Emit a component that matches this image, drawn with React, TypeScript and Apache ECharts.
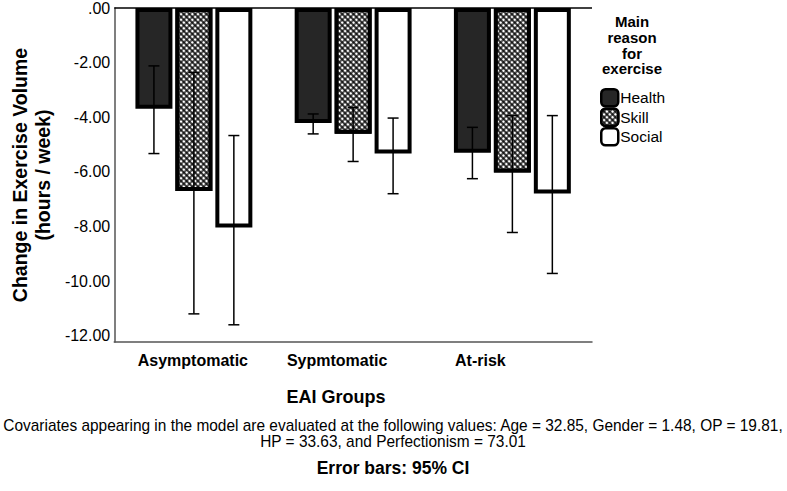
import React, { useEffect, useRef } from "react";
import * as echarts from "echarts";

const categories = ["Asymptomatic", "Sypmtomatic", "At-risk"];
const seriesNames = ["Health", "Skill", "Social"];

const healthMeans = [-3.69, -4.21, -5.3];
const skillMeans = [-6.7, -4.6, -6.02];
const socialMeans = [-8.04, -5.33, -6.79];

const healthLow = [-5.33, -4.61, -6.25];
const healthHigh = [-2.12, -3.88, -4.37];
const skillLow = [-11.2, -5.62, -8.22];
const skillHigh = [-2.36, -3.64, -3.94];
const socialLow = [-11.6, -6.8, -9.72];
const socialHigh = [-4.67, -4.03, -3.94];

const yTicks = [0, -2, -4, -6, -8, -10, -12];

const yTitle = "Change in Exercise Volume\n(hours / week)";
const xTitle = "EAI Groups";
const legendTitle = "Main\nreason\nfor\nexercise";
const footLine1 =
  "Covariates appearing in the model are evaluated at the following values: Age = 32.85, Gender = 1.48, OP = 19.81,";
const footLine2 = "HP = 33.63, and Perfectionism = 73.01";
const footLine3 = "Error bars: 95% CI";

const FONT = '"Liberation Sans", Arial, sans-serif';
const BAR_W = 37;
const BAR_GAP = 0.08;

export default function App() {
  const ref = useRef<HTMLDivElement>(null);

  useEffect(() => {
    if (!ref.current) return;
    const chart = echarts.init(ref.current, undefined, { renderer: "svg" });

    const means = [healthMeans, skillMeans, socialMeans];
    const lows = [healthLow, skillLow, socialLow];
    const highs = [healthHigh, skillHigh, socialHigh];
    const fills = ["#262626", "#000000", "#ffffff"];

    const barSeries = seriesNames.map((name, s) => ({
      type: "bar",
      name,
      data: means[s],
      barWidth: BAR_W,
      barGap: BAR_GAP * 100 + "%",
      itemStyle: {
        color: fills[s],
        borderColor: "#000",
        borderWidth: 4,
        decal:
          s === 1
            ? {
                symbol: "rect",
                symbolSize: 0.68,
                color: "#ffffff",
                dashArrayX: [4, 0],
                dashArrayY: [4, 0],
                rotation: Math.PI / 4,
              }
            : "none",
      },
      silent: true,
      z: 2,
      markLine:
        s === 0
          ? {
              silent: true,
              symbol: "none",
              label: { show: false },
              lineStyle: { color: "#000", width: 1.5, type: "solid" },
              data: [{ yAxis: 0 }],
            }
          : undefined,
    }));

    const errSeries = seriesNames.map((name, s) => ({
      type: "custom",
      name: name + " CI",
      data: categories.map((_, i) => [i, lows[s][i], highs[s][i]]),
      encode: { x: 0, y: [1, 2] },
      z: 10,
      silent: true,
      renderItem: (_params: any, api: any) => {
        const off = (s - 1) * BAR_W * (1 + BAR_GAP);
        const cx = api.coord([api.value(0), 0])[0] + off;
        const yLo = api.coord([api.value(0), api.value(1)])[1];
        const yHi = api.coord([api.value(0), api.value(2)])[1];
        const cap = 5.5;
        const st = { stroke: "#000", lineWidth: 1.5 };
        return {
          type: "group",
          children: [
            { type: "line", shape: { x1: cx, y1: yHi, x2: cx, y2: yLo }, style: st },
            { type: "line", shape: { x1: cx - cap, y1: yHi, x2: cx + cap, y2: yHi }, style: st },
            { type: "line", shape: { x1: cx - cap, y1: yLo, x2: cx + cap, y2: yLo }, style: st },
          ],
        };
      },
    }));

    const labelShift = [2, 32, 64];

    chart.setOption({
      animation: false,
      backgroundColor: "#ffffff",
      textStyle: { fontFamily: FONT },
      title: {
        text: legendTitle,
        left: 632,
        top: 14,
        padding: 0,
        textAlign: "center",
        textStyle: {
          fontFamily: FONT,
          fontSize: 15,
          fontWeight: "bold",
          color: "#000",
          lineHeight: 15.7,
          align: "center",
        },
      },
      legend: {
        data: seriesNames,
        orient: "vertical",
        left: 600,
        top: 88,
        padding: 0,
        itemWidth: 17,
        itemHeight: 17,
        itemGap: 0,
        itemStyle: { borderColor: "#000", borderWidth: 2.5 },
        textStyle: {
          fontFamily: FONT,
          fontSize: 15.5,
          lineHeight: 17,
          color: "#000",
          padding: [0, 0, 0, -3],
        },
        selectedMode: false,
      },
      grid: { left: 112, right: 195, top: 7, bottom: 149 },
      xAxis: {
        type: "category",
        data: categories,
        axisLine: { show: true, onZero: false, lineStyle: { color: "#555", width: 1.5 } },
        axisTick: { show: false },
        axisLabel: {
          margin: 10,
          formatter: (v: string, i: number) => `{l${i}|${v}}`,
          rich: Object.fromEntries(
            labelShift.map((p, i) => [
              `l${i}`,
              {
                fontFamily: FONT,
                fontSize: 16,
                fontWeight: "bold",
                color: "#000",
                padding: [0, p, 0, 0],
              },
            ])
          ),
        },
      },
      yAxis: {
        type: "value",
        min: -12.23,
        max: 0,
        name: yTitle,
        nameLocation: "middle",
        nameGap: 57,
        nameTextStyle: {
          fontFamily: FONT,
          fontSize: 19.5,
          fontWeight: "bold",
          color: "#000",
          lineHeight: 23,
          align: "center",
        },
        axisLine: { show: true, lineStyle: { color: "#555", width: 1.5 } },
        axisTick: { show: false },
        splitLine: { show: false },
        axisLabel: {
          customValues: yTicks,
          margin: 4,
          fontFamily: FONT,
          fontSize: 16,
          color: "#000",
          formatter: (v: number) => (v === 0 ? ".00" : v.toFixed(2)),
        },
      },
      graphic: [
        {
          type: "text",
          x: 336,
          y: 397,
          style: {
            text: xTitle,
            font: `bold 18px ${FONT}`,
            textAlign: "center",
            textVerticalAlign: "middle",
            fill: "#000",
          },
        },
        {
          type: "text",
          x: 393,
          y: 425,
          scaleX: 0.965,
          style: {
            text: footLine1,
            font: `16px ${FONT}`,
            textAlign: "center",
            textVerticalAlign: "middle",
            fill: "#000",
          },
        },
        {
          type: "text",
          x: 393,
          y: 441,
          scaleX: 0.965,
          style: {
            text: footLine2,
            font: `16px ${FONT}`,
            textAlign: "center",
            textVerticalAlign: "middle",
            fill: "#000",
          },
        },
        {
          type: "text",
          x: 393,
          y: 468,
          style: {
            text: footLine3,
            font: `bold 17.5px ${FONT}`,
            textAlign: "center",
            textVerticalAlign: "middle",
            fill: "#000",
          },
        },
      ],
      series: [...barSeries, ...errSeries],
    } as any);

    return () => chart.dispose();
  }, []);

  return (
    <div
      ref={ref}
      style={{ position: "fixed", left: 0, top: 0, width: 787, height: 491, background: "#fff" }}
    />
  );
}
